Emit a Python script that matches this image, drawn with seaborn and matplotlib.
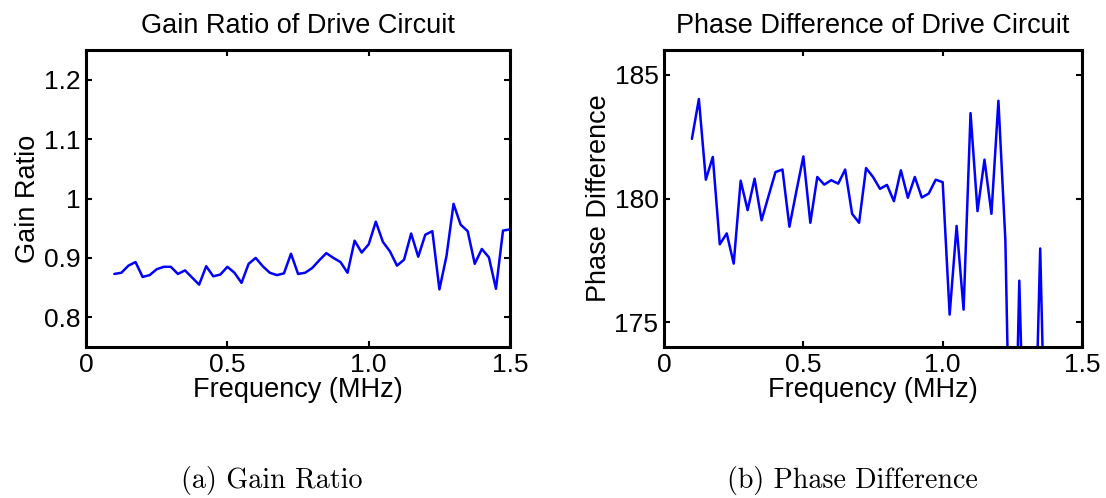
import numpy as np
import pandas as pd
import matplotlib
matplotlib.use("Agg")
import matplotlib.pyplot as plt
import seaborn as sns

# ---- data ----
freq_mhz = [0.1, 0.125, 0.15, 0.175, 0.2, 0.225, 0.25, 0.275, 0.3, 0.325,
            0.35, 0.375, 0.4, 0.425, 0.45, 0.475, 0.5, 0.525, 0.55, 0.575,
            0.6, 0.625, 0.65, 0.675, 0.7, 0.725, 0.75, 0.775, 0.8, 0.825,
            0.85, 0.875, 0.9, 0.925, 0.95, 0.975, 1.0, 1.025, 1.05, 1.075,
            1.1, 1.125, 1.15, 1.175, 1.2, 1.225, 1.25, 1.275, 1.3, 1.325,
            1.35, 1.375, 1.4, 1.425, 1.45, 1.475, 1.5]

gain_ratio = [0.873, 0.875, 0.887, 0.893, 0.868, 0.871, 0.881, 0.885, 0.885, 0.873,
              0.879, 0.867, 0.855, 0.886, 0.869, 0.872, 0.885, 0.875, 0.858, 0.890,
              0.900, 0.886, 0.875, 0.871, 0.874, 0.907, 0.873, 0.875, 0.883, 0.896,
              0.908, 0.900, 0.893, 0.875, 0.929, 0.909, 0.923, 0.961, 0.927, 0.911,
              0.887, 0.897, 0.941, 0.902, 0.939, 0.945, 0.847, 0.903, 0.991, 0.956,
              0.945, 0.890, 0.915, 0.901, 0.848, 0.946, 0.948]

phase_diff = [182.41, 184.02, 180.76, 181.68, 178.15, 178.59, 177.37, 180.72, 179.53, 180.80,
              179.12, 180.10, 181.07, 181.17, 178.86, 180.30, 181.70, 179.02, 180.87, 180.56,
              180.74, 180.60, 181.17, 179.38, 179.02, 181.23, 180.87, 180.39, 180.55, 179.89,
              181.14, 180.03, 180.87, 180.04, 180.20, 180.76, 180.66, 175.31, 178.89, 175.51,
              183.45, 179.49, 181.57, 179.38, 183.95, 178.30, 164.0, 176.68, 166.0, 167.0,
              177.98, 166.0, 165.0, 164.0, 165.0, 164.0, 165.0]

gain_ticks = [0.8, 0.9, 1.0, 1.1, 1.2]
gain_tick_labels = ["0.8", "0.9", "1", "1.1", "1.2"]
phase_ticks = [175, 180, 185]
phase_tick_labels = ["175", "180", "185"]
freq_ticks = [0, 0.5, 1.0, 1.5]
freq_tick_labels = ["0", "0.5", "1.0", "1.5"]

titles = ["Gain Ratio of Drive Circuit", "Phase Difference of Drive Circuit"]
ylabels = ["Gain Ratio", "Phase Difference"]
xlabel = "Frequency (MHz)"
captions = ["(a) Gain Ratio", "(b) Phase Difference"]

df = pd.DataFrame({"freq": freq_mhz, "gain": gain_ratio, "phase": phase_diff})

# ---- style ----
sns.set_theme(style="ticks")
plt.rcParams["font.family"] = ["Liberation Sans", "DejaVu Sans"]
plt.rcParams.update({
    "xtick.direction": "in", "ytick.direction": "in",
    "xtick.top": True, "ytick.right": True,
    "xtick.major.size": 4, "ytick.major.size": 4,
    "xtick.major.width": 1.5, "ytick.major.width": 1.5,
    "axes.linewidth": 2.2, "axes.edgecolor": "black",
    "text.color": "black", "axes.labelcolor": "black",
    "xtick.color": "black", "ytick.color": "black",
})

fig = plt.figure(figsize=(11.06, 4.98), dpi=100)
ax1 = fig.add_axes([0.0778, 0.3032, 0.3834, 0.5964])
ax2 = fig.add_axes([0.6004, 0.3032, 0.3779, 0.5964])

fs_title = 19.5
fs_tick = 19
fs_label = 19.5

sns.lineplot(data=df, x="freq", y="gain", ax=ax1, color="#0000ff", linewidth=1.8)
sns.lineplot(data=df, x="freq", y="phase", ax=ax2, color="#0000ff", linewidth=1.8)

ax1.set_ylim(0.75, 1.25)
ax1.set_yticks(gain_ticks)
ax1.set_yticklabels(gain_tick_labels)
ax2.set_ylim(174, 186)
ax2.set_yticks(phase_ticks)
ax2.set_yticklabels(phase_tick_labels)

for ax, t, yl in zip([ax1, ax2], titles, ylabels):
    ax.set_xlim(0, 1.5)
    ax.set_xticks(freq_ticks)
    ax.set_xticklabels(freq_tick_labels)
    ax.tick_params(labelsize=fs_tick, colors="black", pad=4)
    ax.set_title(t, fontsize=fs_title, pad=12)
    ax.set_xlabel(xlabel, fontsize=fs_label, labelpad=0)
    ax.set_ylabel(yl, fontsize=fs_label, labelpad=2)
    for s in ax.spines.values():
        s.set_visible(True)
        s.set_color("black")

fig.text(272 / 1106, 1 - 480 / 498, captions[0], family="cmr10", fontsize=20.2,
         ha="center", va="center")
fig.text(852 / 1106, 1 - 480 / 498, captions[1], family="cmr10", fontsize=20.2,
         ha="center", va="center")

fig.savefig("out.png", dpi=100)
